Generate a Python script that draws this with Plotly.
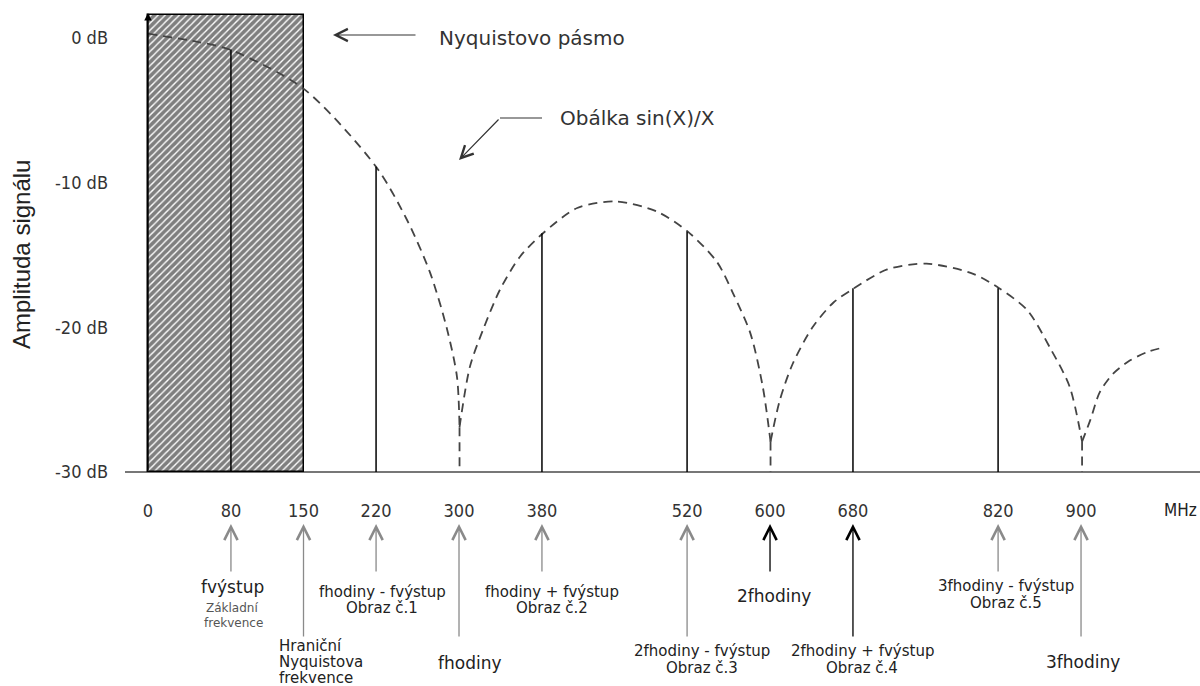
import plotly.graph_objects as go

# ---------------- data ----------------
tick_vals = [0, 80, 150, 220, 300, 380, 520, 600, 680, 820, 900]
tick_text = ["0", "80", "150", "220", "300", "380", "520", "600", "680", "820", "900"]
y_tick_vals = [0, -10, -20, -30]
y_tick_text = ["0 dB", "-10 dB", "-20 dB", "-30 dB"]

# sin(x)/x envelope (MHz, dB); None separates lobes
env_x = [0, 50, 79, 150, 220, 250, 272, 288, 298, 300.5, None,
         300.5, 310.6, 323, 339.5, 359, 381, 414, 452, 491, 521, 549, 564, 581, 593, 600.5, None,
         600.5, 609.6, 622, 641, 661, 681, 713, 751, 796, 821, 848, 870, 889, 901, None,
         901, 909, 918, 931, 947, 964, 979]
env_y = [0.3, -0.3, -0.8, -3.5, -8.9, -12.6, -16.2, -20.0, -23.4, -26.9, None,
         -26.9, -22.7, -20.2, -17.4, -15.1, -13.5, -11.75, -11.3, -12.0, -13.4, -15.5, -17.6, -20.4, -24.1, -27.9, None,
         -27.9, -25.0, -22.5, -20.0, -18.3, -17.3, -16.0, -15.6, -16.3, -17.3, -18.8, -21.4, -24.1, -27.9, None,
         -27.9, -26.4, -24.5, -23.2, -22.3, -21.7, -21.4]
null_x = [300.5, 600.5, 901]
null_y = [-26.9, -27.9, -27.9]

# spectral lines (MHz, top in dB)
line_freqs = [80, 220, 380, 520, 680, 820]
line_tops = [-0.8, -8.9, -13.5, -13.4, -17.3, -17.3]

# Nyquist band
band_start, band_end = 0, 150
band_top = 1.6
floor_db = -30

# labels under the axis
label_freqs = [80, 150, 220, 300, 380, 520, 600, 680, 820, 900]
label_texts = [
    ["fvýstup"],
    ["Hraniční", "Nyquistova", "frekvence"],
    ["fhodiny - fvýstup", "Obraz č.1"],
    ["fhodiny"],
    ["fhodiny + fvýstup", "Obraz č.2"],
    ["2fhodiny - fvýstup", "Obraz č.3"],
    ["2fhodiny"],
    ["2fhodiny + fvýstup", "Obraz č.4"],
    ["3fhodiny - fvýstup", "Obraz č.5"],
    ["3fhodiny"],
]
label_long = [False, True, False, True, False, True, False, True, False, True]
label_black = [False, False, False, False, False, False, True, True, False, False]

# ---------------- pixel helpers (layout only) ----------------
W, H = 1200, 686
PX0, PXS = 148.0, 1.0367      # x pixel of 0 MHz, pixels per MHz
PY0, PYS = 38.0, 434.0 / 30   # y pixel of 0 dB, pixels per dB
def X(px):
    return (px - PX0) / PXS
def Y(py):
    return (PY0 - py) / PYS

fig = go.Figure()

# hatched Nyquist band
fig.add_trace(go.Bar(
    x=[(band_start + band_end) / 2], y=[band_top - floor_db], base=[floor_db],
    width=[band_end - band_start],
    marker=dict(color="white", line=dict(color="black", width=1.5),
                pattern=dict(shape="/", size=5, solidity=0.72, fgcolor="black",
                             bgcolor="white", fillmode="overlay")),
    showlegend=False, hoverinfo="skip"))

# envelope
env_line = dict(color="#444444", width=1.8, dash="9px,6px")
fig.add_trace(go.Scatter(x=env_x, y=env_y, mode="lines",
                         line=dict(**env_line, shape="spline", smoothing=0.8),
                         connectgaps=False, showlegend=False, hoverinfo="skip"))
nx, ny = [], []
for a, b in zip(null_x, null_y):
    nx += [a, a, None]
    ny += [b, floor_db, None]
fig.add_trace(go.Scatter(x=nx, y=ny, mode="lines", line=env_line,
                         showlegend=False, hoverinfo="skip"))

# spectral lines
lx, ly = [], []
for f, t in zip(line_freqs, line_tops):
    lx += [f, f, None]
    ly += [floor_db, t, None]
fig.add_trace(go.Scatter(x=lx, y=ly, mode="lines", line=dict(color="black", width=1.5),
                         showlegend=False, hoverinfo="skip"))

ann = []
# y axis arrow
ann.append(dict(x=0, y=Y(13), ax=0, ay=floor_db, xref="x", yref="y", axref="x", ayref="y",
                showarrow=True, arrowhead=2, arrowsize=1, arrowwidth=1.5, arrowcolor="black", text=""))

# arrows under axis
main_font = "DejaVu Sans, Verdana, sans-serif"
for f, lng, blk in zip(label_freqs, label_long, label_black):
    col = "black" if blk else "#8a8a8a"
    tail = 638 if lng else 573
    ann.append(dict(x=f, y=Y(524), ax=f, ay=Y(tail), xref="x", yref="y", axref="x", ayref="y",
                    showarrow=True, arrowhead=5, arrowsize=2, arrowwidth=1.3, arrowcolor=col, text=""))

def txt(px, py, s, size, color="#222222", xanchor="center", family=main_font):
    ann.append(dict(x=X(px), y=Y(py), xref="x", yref="y", text=s, showarrow=False,
                    xanchor=xanchor, yanchor="middle",
                    font=dict(family=family, size=size, color=color)))

txt(232, 587, label_texts[0][0], 17)
txt(232, 608, "Základní", 12, "#555555")
txt(233, 623, "frekvence", 12, "#555555")
for i, s in enumerate(label_texts[1]):
    txt(277, 646 + 16 * i, s, 15, xanchor="left")
txt(382, 592, label_texts[2][0], 15); txt(382, 608, label_texts[2][1], 15)
txt(470, 663, label_texts[3][0], 17)
txt(552, 592, label_texts[4][0], 15); txt(552, 608, label_texts[4][1], 15)
txt(702, 651, label_texts[5][0], 15); txt(702, 668, label_texts[5][1], 15)
txt(774, 596, label_texts[6][0], 17)
txt(862, 651, label_texts[7][0], 15); txt(862, 668, label_texts[7][1], 15)
txt(1006, 586, label_texts[8][0], 15); txt(1006, 603, label_texts[8][1], 15)
txt(1083, 662, label_texts[9][0], 17)

# MHz unit
txt(1199, 510, "MHz", 17, "#222222", xanchor="right", family="DejaVu Sans Condensed, DejaVu Sans, sans-serif")

# top annotations
txt(437, 38, "Nyquistovo pásmo", 20, "#333333", xanchor="left")
ann.append(dict(x=X(333), y=Y(35), ax=X(417), ay=Y(35), xref="x", yref="y", axref="x", ayref="y",
                showarrow=True, arrowhead=5, arrowsize=2, arrowwidth=1.2, arrowcolor="#333333", text=""))
txt(558, 118, "Obálka sin(X)/X", 20, "#333333", xanchor="left")
ann.append(dict(x=X(459), y=Y(160), ax=X(500), ay=Y(118), xref="x", yref="y", axref="x", ayref="y",
                showarrow=True, arrowhead=5, arrowsize=2, arrowwidth=1.2, arrowcolor="#333333", text=""))

# y axis title
ann.append(dict(x=X(21), y=Y(255), xref="x", yref="y", text="Amplituda signálu", showarrow=False,
                textangle=-90, font=dict(family="Liberation Sans, Arial, sans-serif", size=24, color="#222222")))

shapes = [
    dict(type="line", xref="x", yref="y", x0=X(125), x1=X(1200), y0=floor_db, y1=floor_db,
         line=dict(color="#777777", width=2), layer="below"),
    dict(type="line", xref="x", yref="y", x0=X(500), x1=X(542), y0=Y(118), y1=Y(118),
         line=dict(color="#333333", width=1.2)),
]

tick_font = dict(family="DejaVu Sans Condensed, DejaVu Sans, sans-serif", size=18, color="#333333")
fig.update_layout(
    width=W, height=H, margin=dict(l=0, r=0, t=0, b=0),
    paper_bgcolor="white", plot_bgcolor="white",
    showlegend=False, bargap=0,
    xaxis=dict(range=[X(0), X(W)], domain=[0, 1], showgrid=False, zeroline=False, showline=False,
               tickvals=tick_vals, ticktext=tick_text, ticks="", tickfont=tick_font,
               anchor="free", position=(H - 472) / H, ticklabelstandoff=26, fixedrange=True),
    yaxis=dict(range=[Y(H), Y(0)], domain=[0, 1], showgrid=False, zeroline=False, showline=False,
               tickvals=y_tick_vals, ticktext=y_tick_text, ticks="", tickfont=tick_font,
               anchor="free", position=PX0 / W, ticklabelstandoff=40, fixedrange=True),
    annotations=ann, shapes=shapes,
)

fig.write_html("out.html")
